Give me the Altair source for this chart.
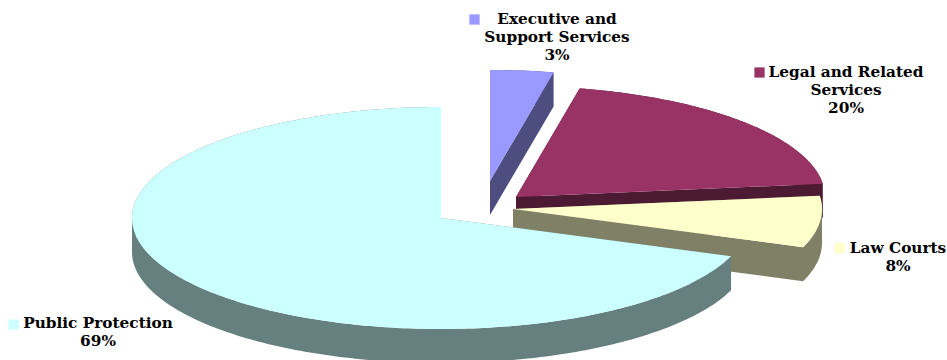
import math
import altair as alt

# Budget shares, in percent, going clockwise from twelve o'clock
names = ["Executive and Support Services", "Legal and Related Services", "Law Courts", "Public Protection"]
shares = [3.3, 19.8, 7.5, 69.4]
top_colors = ["#9999FF", "#993366", "#FFFFCC", "#CCFFFF"]
side_colors = ["#4D4D80", "#4D1A33", "#808066", "#668080"]
label_lines = [["Executive and", "Support Services"], ["Legal and Related", "Services"], ["Law Courts"], ["Public Protection"]]

# Pie geometry: ellipse radii, wall height, and each slice's exploded apex
RX, RY, DEPTH = 309, 111, 34
apexes = [(490, 181), (516, 197), (513, 209), (441, 218)]

# Label placement: text centre x, first line y, legend key centre
label_x = [557, 846, 898, 98]
label_y = [19, 72, 248, 323]
key_pos = [(474.5, 19.5), (759.5, 72.5), (839.5, 248), (13.5, 324.5)]
LINE_STEP = 18


def sector(apex, start, end):
    steps = max(2, int(end - start) + 1)
    ring = [[apex[0], apex[1]]]
    for i in range(steps + 1):
        t = math.radians(start + (end - start) * i / steps)
        ring.append([apex[0] + RX * math.sin(t), apex[1] - RY * math.cos(t)])
    ring.append(ring[0])
    return ring


def wall(a, b):
    # One quad of the swept edge, wound consistently so overlaps stay filled
    quad = [a, b, [b[0], b[1] + DEPTH], [a[0], a[1] + DEPTH], a]
    if (b[0] - a[0]) < 0:
        quad = quad[::-1]
    return quad


def feature(polys, color):
    return {
        "type": "Feature",
        "geometry": {"type": "MultiPolygon", "coordinates": [[p] for p in polys]},
        "properties": {"color": color},
    }


features = []
angle = 0.0
for share, apex, top, side in zip(shares, apexes, top_colors, side_colors):
    end = angle + share * 3.6
    upper = sector(apex, angle, end)
    walls = [wall(a, b) for a, b in zip(upper, upper[1:])]
    features.append(feature(walls, side))
    features.append(feature([upper], top))
    angle = end

pie = (
    alt.Chart(alt.Data(values=features))
    .mark_geoshape(strokeWidth=0)
    .encode(fill=alt.Fill("properties.color:N", scale=None))
    .project(type="identity", scale=1, translate=[0, 0])
)

text_rows = []
key_rows = []
for i, lines in enumerate(label_lines):
    rows = lines + [f"{round(shares[i])}%"]
    for j, line in enumerate(rows):
        text_rows.append({"t": line, "px": label_x[i], "py": label_y[i] + j * LINE_STEP})
    key_rows.append({"name": names[i], "px": key_pos[i][0], "py": key_pos[i][1], "c": top_colors[i]})

pixel_x = alt.Scale(domain=[0, 947], range=[0, 947])
pixel_y = alt.Scale(domain=[0, 360], range=[0, 360])

labels = (
    alt.Chart(alt.Data(values=text_rows))
    .mark_text(font="DejaVu Serif", fontWeight="bold", fontSize=15.3, color="#000000", align="center", baseline="middle")
    .encode(x=alt.X("px:Q", scale=pixel_x, axis=None), y=alt.Y("py:Q", scale=pixel_y, axis=None), text="t:N")
)

keys = (
    alt.Chart(alt.Data(values=key_rows))
    .mark_square(size=105, opacity=1)
    .encode(
        x=alt.X("px:Q", scale=pixel_x, axis=None),
        y=alt.Y("py:Q", scale=pixel_y, axis=None),
        color=alt.Color("c:N", scale=None),
    )
)

chart = (
    alt.layer(pie, keys, labels)
    .properties(width=947, height=360, padding=0, autosize=alt.AutoSizeParams(type="none"))
    .configure_view(stroke=None)
)

chart.save("out.html", embed_options={"renderer": "svg", "actions": False})
